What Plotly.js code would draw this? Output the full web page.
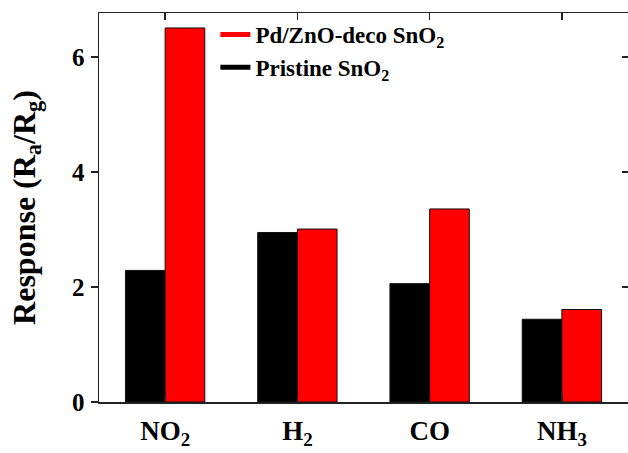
<!DOCTYPE html>
<html>
<head>
<meta charset="utf-8">
<script src="https://cdn.plot.ly/plotly-3.0.1.min.js"></script>
<style>html,body{margin:0;padding:0;background:#fff}#chart{width:628px;height:453px}</style>
</head>
<body>
<div id="chart"></div>
<script>
// Data
var categories = ['NO2', 'H2', 'CO', 'NH3'];
var tickLabels = ['NO<sub>2</sub>', 'H<sub>2</sub>', 'CO', 'NH<sub>3</sub>'];
var pristineSnO2 = [2.29, 2.95, 2.06, 1.44];
var pdZnoSnO2 = [6.51, 3.01, 3.36, 1.61];
var seriesNames = ['Pristine SnO<sub>2</sub>', 'Pd/ZnO-deco SnO<sub>2</sub>'];
var yTicks = [0, 2, 4, 6];

var FONT = '"Liberation Serif", serif';
var lineCol = '#222';

var traces = [
  {type: 'bar', x: categories, y: pristineSnO2, name: seriesNames[0], showlegend: false,
   marker: {color: '#000000', line: {color: '#111', width: 1}}},
  {type: 'bar', x: categories, y: pdZnoSnO2, name: seriesNames[1], showlegend: false,
   marker: {color: '#ff0000', line: {color: '#111', width: 1}}},
  // legend-only entries (line-style symbols)
  {type: 'scatter', mode: 'lines', x: [null], y: [null], yaxis: 'y2', name: seriesNames[1],
   line: {color: '#ff0000', width: 5}, hoverinfo: 'skip'},
  {type: 'scatter', mode: 'lines', x: [null], y: [null], yaxis: 'y2', name: seriesNames[0],
   line: {color: '#000000', width: 5}, hoverinfo: 'skip'}
];

var layout = {
  width: 628, height: 453,
  margin: {l: 99, r: 0, t: 13, b: 51},
  paper_bgcolor: '#fff', plot_bgcolor: '#fff',
  font: {family: FONT, color: '#000', weight: 'bold'},
  barmode: 'group', bargap: 0.4, bargroupgap: 0,
  showlegend: true,
  legend: {x: 0.22, y: 1.0, xanchor: 'left', yanchor: 'top', bgcolor: 'rgba(0,0,0,0)',
           font: {family: FONT, size: 23, weight: 'bold'}, tracegroupgap: 0, traceorder: 'normal'},
  xaxis: {
    type: 'category', categoryarray: categories, range: [-0.5, 3.5],
    tickvals: categories, ticktext: tickLabels,
    showline: true, linecolor: lineCol, linewidth: 1.5, mirror: 'ticks',
    ticks: 'inside', ticklen: 7, tickwidth: 1.5, tickcolor: lineCol,
    tickfont: {family: FONT, size: 27, weight: 'bold', color: '#000'},
    ticklabelstandoff: 4, showgrid: false, zeroline: false, fixedrange: true
  },
  yaxis: {
    range: [0, 6.77], tickvals: yTicks, ticktext: yTicks.map(String),
    showline: true, linecolor: lineCol, linewidth: 1.5,
    ticks: 'outside', ticklen: 7, tickwidth: 1.5, tickcolor: lineCol,
    tickfont: {family: FONT, size: 25, weight: 'bold', color: '#000'},
    ticklabelstandoff: 1,
    showgrid: false, zeroline: false, fixedrange: true,
    title: {text: 'Response (R<sub>a</sub>/R<sub>g</sub>)', font: {family: FONT, size: 32, weight: 'bold', color: '#000'}, standoff: 27}
  },
  yaxis2: {
    overlaying: 'y', side: 'right', anchor: 'x', range: [0, 6.77], tickvals: yTicks,
    showticklabels: false, showline: true, linecolor: lineCol, linewidth: 1.5,
    ticks: 'inside', ticklen: 6, tickwidth: 1.5, tickcolor: lineCol,
    showgrid: false, zeroline: false, fixedrange: true
  }
};

Plotly.newPlot('chart', traces, layout, {displayModeBar: false, staticPlot: true});
</script>
</body>
</html>
